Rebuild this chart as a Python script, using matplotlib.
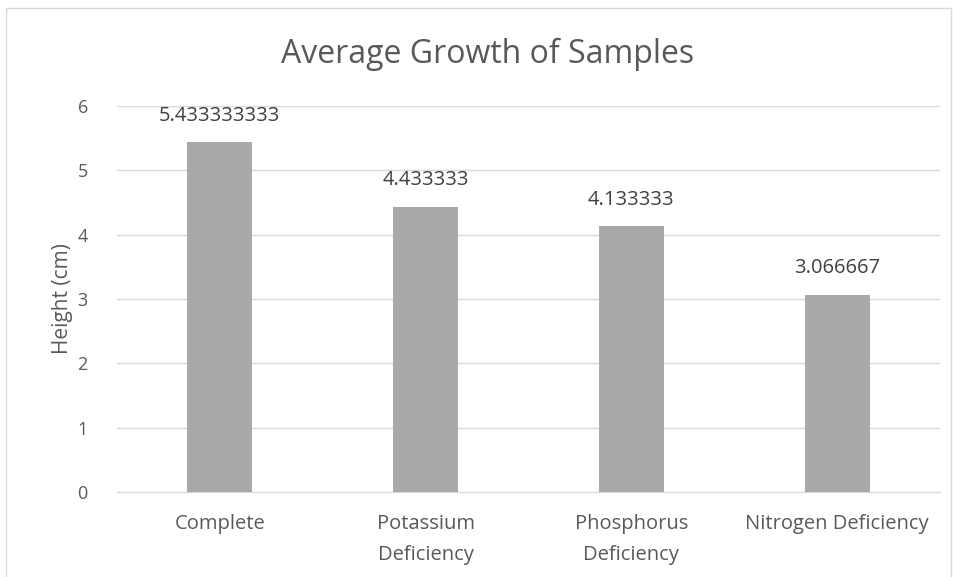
import matplotlib.pyplot as plt
from matplotlib.patches import Rectangle

# ------------------------------------------------------------------------------
categories = ["Complete", "Potassium\nDeficiency", "Phosphorus\nDeficiency",
              "Nitrogen Deficiency"]
heights = [5.433333333, 4.433333, 4.133333, 3.066667]
value_labels = ["5.433333333", "4.433333", "4.133333", "3.066667"]
y_ticks = [0, 1, 2, 3, 4, 5, 6]
title = "Average Growth of Samples"
y_label = "Height (cm)"
# ------------------------------------------------------------------------------

plt.rcParams["font.family"] = ["Open Sans", "DejaVu Sans"]
text_color = "#595959"

fig = plt.figure(figsize=(9.54, 5.77), dpi=100)
ax = fig.add_axes([0.1226, 0.1473, 0.8627, 0.669])

x = range(len(categories))
bars = ax.bar(x, heights, width=0.316, color="#a9a9a9", zorder=3)

for b, lab in zip(bars, value_labels):
    ax.annotate(lab, (b.get_x() + b.get_width() / 2, b.get_height()),
                xytext=(0, 19), textcoords="offset points",
                ha="center", va="center", fontsize=14.5, color="#404040")

ax.set_xlim(-0.5, len(categories) - 0.5)
ax.set_ylim(0, 6)
ax.set_yticks(y_ticks)
ax.set_xticks(list(x))
ax.set_xticklabels(categories, fontsize=14.5, color=text_color, linespacing=1.7)
ax.tick_params(axis="y", labelsize=13, labelcolor=text_color, length=0, pad=21)
ax.tick_params(axis="x", length=0, pad=16)
ax.grid(axis="y", color="#d9d9d9", linewidth=1, zorder=0)
for s in ["top", "right", "left"]:
    ax.spines[s].set_visible(False)
ax.spines["bottom"].set_color("#d9d9d9")

ax.set_ylabel(y_label, fontsize=15, color=text_color, labelpad=3)
fig.text(0.511, 0.905, title, ha="center", va="center", fontsize=23,
         color=text_color)

# chart border
fig.patches.append(Rectangle((6 / 954, -0.01), 945 / 954, 1 - 8 / 577 + 0.01,
                             transform=fig.transFigure, fill=False,
                             edgecolor="#d9d9d9", linewidth=1))

fig.savefig("out.png", dpi=100)
